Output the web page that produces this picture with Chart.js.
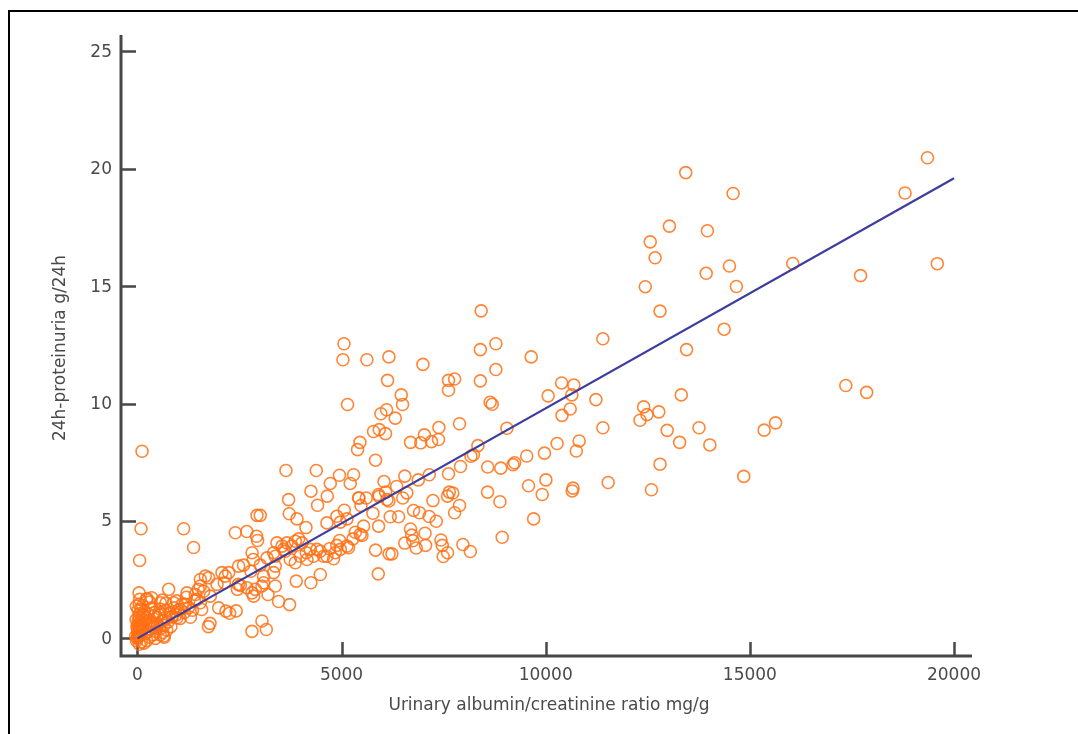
<!DOCTYPE html>
<html>
<head>
<meta charset="utf-8">
<script src="https://cdn.jsdelivr.net/npm/chart.js@4/dist/chart.umd.min.js"></script>
<style>
  html, body { margin: 0; padding: 0; background: #fff; }
  #wrap { position: relative; width: 1078px; height: 734px; }
</style>
</head>
<body>
<div id="wrap"><canvas id="chart"></canvas></div>
<script>
// urinary albumin/creatinine ratio (mg/g) and 24h proteinuria (g/24h), one entry per patient
const ratio = [
  19350, 18800, 19590, 17860, 17350, 17710, 16050, 15630, 15350, 14850,
  14590, 14670, 14500, 13960, 13930, 14370, 14020, 13755, 13430, 13030,
  12680, 12560, 12440, 12800, 13450, 13320, 13280, 12975, 12770, 12400,
  12480, 12310, 12800, 12590, 11530, 11400, 11230, 11400, 10820, 10750,
  10280, 10670, 10650, 10390, 10690, 10640, 10060, 10600, 10400, 9645,
  8780, 8400, 8780, 8420, 8400, 7620, 7770, 7620, 8640, 8690,
  7385, 7890, 9050, 7030, 6690, 6940, 7205, 7375, 8340, 8230,
  8170, 8580, 8900, 9200, 9240, 9535, 9970, 9580, 10005, 9915,
  8576, 8880, 9705, 8935, 7620, 7915, 7150, 6880, 6550, 6040,
  6350, 6500, 6080, 6160, 5606, 5427, 5917, 4950, 5296, 5214,
  4725, 4651, 7239, 7640, 7725, 7597, 7890, 7770, 6764, 6911,
  7145, 7320, 7045, 6690, 6720, 6550, 6749, 6830, 7058, 7435,
  7467, 7597, 7490, 7973, 8155, 5834, 6165, 6235, 5900, 6193,
  6397, 5540, 5770, 5908, 5459, 5060, 5035, 5622, 6161, 6994,
  6128, 6463, 6495, 5148, 6103, 5965, 6316, 5785, 5924, 6078,
  5451, 5393, 5833,
  115, 90, 56, 1134, 1378, 3640, 4382, 3704, 4251, 4414,
  3721, 3909, 4129, 2930, 3010, 2400, 2680, 2920, 2945, 2810,
  2840, 3010, 2600, 2780, 3092, 3337, 3378, 3052, 2807, 2450,
  2521, 2685, 2889, 2848,
  3175, 3378, 3337, 3542, 3419, 3664, 3582, 3623, 3745, 3787,
  3868, 3868, 3950, 3990, 4031, 4137, 4154, 4235, 4316, 4399,
  4480, 4561, 4643, 4708, 4806, 4847, 4886, 4953, 4970, 5133,
  5173, 5280, 5337, 5500,
  4643, 4886, 5067, 5133, 4970, 5418, 5476, 5907, 6112, 6601,
  3378, 3892, 4251, 4480, 3092, 3459, 3729, 3200, 2807, 3052,
  3158, 1991, 2170, 2420, 2260,
  767, 1216, 1420, 1461, 1175, 1780, 1740, 1542, 1665, 1746,
  1542, 1624, 1787, 1951, 2073, 2154, 2236, 2481, 2130, 2473,
  1493, 1575, 563, 889, 1053, 1542, 644, 482, 612, 350,
  42, 56, 220, -24, 400, 546, 644, 849, 971,
  0, 20, 40, 10, 60, 30, 80, 5, 50, 100,
  15, 70, 120, 25, 90, 150, 40, 110, 180, 60,
  140, 210, 20, 90, 170, 250, 45, 130, -20, -40,
  -10, -30, 200, 260, 320, 280, 350, 400, 450, 380,
  300, 230, 160, 100, 50, 500, 550, 600, 650, 480,
  530, 420, 700, 750, 800, 680, 850, 900, 950, 1000,
  620, 720, 820, 560, 350, 300, 240, 560, 1050, 1100,
  1150, 1250, 1300, 1400, 1200, 960, 700, 1350, 440, 660
];
const proteinuria = [
  20.47, 18.97, 15.96, 10.48, 10.77, 15.45, 15.97, 9.18, 8.87, 6.90,
  18.95, 14.99, 15.86, 17.36, 15.55, 13.17, 8.24, 8.97, 19.84, 17.56,
  16.21, 16.89, 14.98, 13.94, 12.30, 10.37, 8.35, 8.86, 9.65, 9.86,
  9.53, 9.29, 7.42, 6.33, 6.64, 8.97, 10.17, 12.76, 8.41, 7.98,
  8.30, 6.40, 6.28, 10.88, 10.79, 10.37, 10.33, 9.77, 9.50, 11.99,
  12.55, 12.30, 11.45, 13.95, 10.97, 10.99, 11.05, 10.57, 10.06, 9.97,
  8.98, 9.14, 8.95, 8.67, 8.35, 8.33, 8.38, 8.47, 8.21, 7.82,
  7.76, 7.30, 7.25, 7.40, 7.48, 7.77, 7.89, 6.50, 6.75, 6.13,
  6.23, 5.82, 5.09, 4.31, 7.01, 7.32, 6.97, 6.75, 6.91, 6.68,
  6.47, 5.98, 6.23, 5.85, 5.98, 5.97, 6.05, 6.95, 6.97, 6.60,
  6.60, 6.06, 5.87, 6.23, 6.19, 6.06, 5.66, 5.35, 5.45, 5.35,
  5.19, 4.99, 4.48, 4.66, 4.40, 4.06, 4.16, 3.85, 3.96, 4.19,
  3.96, 3.65, 3.49, 4.00, 3.70, 3.76, 3.60, 3.60, 2.75, 5.18,
  5.18, 4.78, 5.33, 4.78, 4.43, 12.55, 11.87, 11.87, 11.99, 11.67,
  10.99, 10.37, 9.96, 9.96, 9.74, 9.57, 9.38, 8.81, 8.89, 8.72,
  8.35, 8.04, 7.59,
  7.97, 4.67, 3.32, 4.67, 3.87, 7.15, 7.15, 5.91, 6.27, 5.67,
  5.31, 5.09, 4.72, 5.24, 5.24, 4.50, 4.55, 4.35, 4.17, 3.65,
  3.36, 3.12, 3.12, 2.86, 2.65, 2.80, 2.23, 2.23, 1.94, 2.09,
  2.26, 2.16, 2.09, 1.80,
  3.43, 3.50, 3.65, 3.93, 4.07, 4.07, 3.79, 3.71, 3.36, 3.93,
  4.14, 3.22, 4.24, 3.50, 4.07, 3.65, 3.36, 3.79, 3.50, 3.79,
  3.71, 3.50, 3.50, 3.82, 3.39, 3.65, 3.96, 4.17, 3.79, 3.93,
  3.86, 4.24, 4.52, 4.38,
  4.92, 5.20, 5.46, 5.09, 4.95, 5.99, 5.66, 6.13, 5.91, 6.20,
  3.08, 2.44, 2.37, 2.72, 2.37, 1.57, 1.44, 1.87, 0.30, 0.74,
  0.38, 1.30, 1.16, 1.17, 1.07,
  2.09, 1.94, 1.87, 1.66, 1.45, 0.64, 0.50, 2.51, 2.65, 2.58,
  2.23, 2.01, 1.80, 2.30, 2.80, 2.65, 2.80, 3.08, 2.37, 2.30,
  2.09, 1.23, 1.52, 1.52, 1.23, 1.52, 0.10, 0.52, 1.63, 1.73,
  1.94, 1.66, 1.66, 1.37, 0.95, 1.09, 0.74, 0.95, 0.88,
  0.00, 0.05, 0.10, 0.20, 0.15, 0.30, 0.25, 0.40, 0.45, 0.35,
  0.60, 0.55, 0.50, 0.75, 0.70, 0.60, 0.90, 0.85, 0.75, 1.05,
  1.00, 0.90, 1.20, 1.25, 1.15, 1.05, 1.45, 1.40, -0.10, 0.10,
  0.50, 0.80, 0.20, 0.30, 0.40, 0.60, 0.70, 0.50, 0.30, 0.15,
  0.05, -0.10, -0.20, -0.15, -0.25, 0.60, 0.40, 0.75, 0.55, 0.90,
  1.00, 1.10, 0.90, 0.70, 1.10, 1.20, 0.90, 1.30, 1.00, 1.20,
  0.25, 0.35, 0.50, 0.15, 1.30, 1.55, 1.70, 1.25, 0.85, 1.45,
  1.10, 1.30, 0.90, 1.60, 1.75, 1.60, 1.50, 1.20, 0.00, 0.05
];

// fitted regression line, end points
const fitX = [0, 20000];
const fitY = [0, 19.6];

const xTicks = [0, 5000, 10000, 15000, 20000];
const yTicks = [0, 5, 10, 15, 20, 25];

const xTitle = 'Urinary albumin/creatinine ratio mg/g';
const yTitle = '24h-proteinuria g/24h';

const points = ratio.map((x, i) => ({ x, y: proteinuria[i] }));
const fitLine = fitX.map((x, i) => ({ x, y: fitY[i] }));

const AXIS = '#474747';
const TEXT = '#4a4a4a';
const FONT = '17px "DejaVu Sans", sans-serif';

// frame, axis lines, inward ticks and labels
const axesPlugin = {
  id: 'axes',
  beforeDatasetsDraw(chart) {
    const { ctx, chartArea: a, scales: { x, y } } = chart;
    ctx.save();

    // outer frame (top and left edges)
    ctx.strokeStyle = '#000';
    ctx.lineWidth = 2;
    ctx.beginPath();
    ctx.moveTo(9, chart.height);
    ctx.lineTo(9, 11);
    ctx.lineTo(chart.width, 11);
    ctx.stroke();

    ctx.strokeStyle = AXIS;
    ctx.lineWidth = 3;
    ctx.beginPath();
    ctx.moveTo(a.left, a.top);
    ctx.lineTo(a.left, a.bottom);
    ctx.lineTo(a.right, a.bottom);
    ctx.stroke();

    ctx.lineWidth = 2.5;
    ctx.beginPath();
    yTicks.forEach(v => {
      const py = Math.round(y.getPixelForValue(v)) + 0.5;
      ctx.moveTo(a.left, py);
      ctx.lineTo(a.left + 15, py);
    });
    xTicks.forEach(v => {
      const px = Math.round(x.getPixelForValue(v)) + 0.5;
      ctx.moveTo(px, a.bottom);
      ctx.lineTo(px, a.bottom - 14);
    });
    ctx.stroke();

    ctx.fillStyle = TEXT;
    ctx.font = FONT;
    ctx.textAlign = 'right';
    ctx.textBaseline = 'middle';
    yTicks.forEach(v => ctx.fillText(String(v), a.left - 9, y.getPixelForValue(v) + 1));
    ctx.textAlign = 'center';
    ctx.textBaseline = 'top';
    xTicks.forEach(v => ctx.fillText(String(v), x.getPixelForValue(v), a.bottom + 11));

    ctx.textBaseline = 'middle';
    ctx.fillText(xTitle, 549, 706);
    ctx.translate(61, 348);
    ctx.rotate(-Math.PI / 2);
    ctx.fillText(yTitle, 0, 0);
    ctx.restore();
  }
};

new Chart(document.getElementById('chart'), {
  type: 'scatter',
  data: {
    datasets: [
      {
        data: points,
        pointStyle: 'circle',
        pointRadius: 6,
        pointHoverRadius: 6,
        borderWidth: 1.6,
        borderColor: 'rgba(255, 112, 20, 0.85)',
        backgroundColor: 'rgba(255, 255, 255, 0)',
        order: 2
      },
      {
        type: 'line',
        data: fitLine,
        borderColor: '#3d3d9e',
        borderWidth: 2.2,
        pointRadius: 0,
        fill: false,
        order: 1
      }
    ]
  },
  options: {
    responsive: true,
    maintainAspectRatio: false,
    animation: false,
    events: [],
    layout: { autoPadding: false, padding: { left: 121, right: 106, top: 35, bottom: 78 } },
    plugins: { legend: { display: false }, tooltip: { enabled: false } },
    scales: {
      x: { type: 'linear', min: -400, max: 20440, display: false },
      y: { type: 'linear', min: -0.75, max: 25.7, display: false }
    }
  },
  plugins: [axesPlugin]
});
</script>
</body>
</html>
